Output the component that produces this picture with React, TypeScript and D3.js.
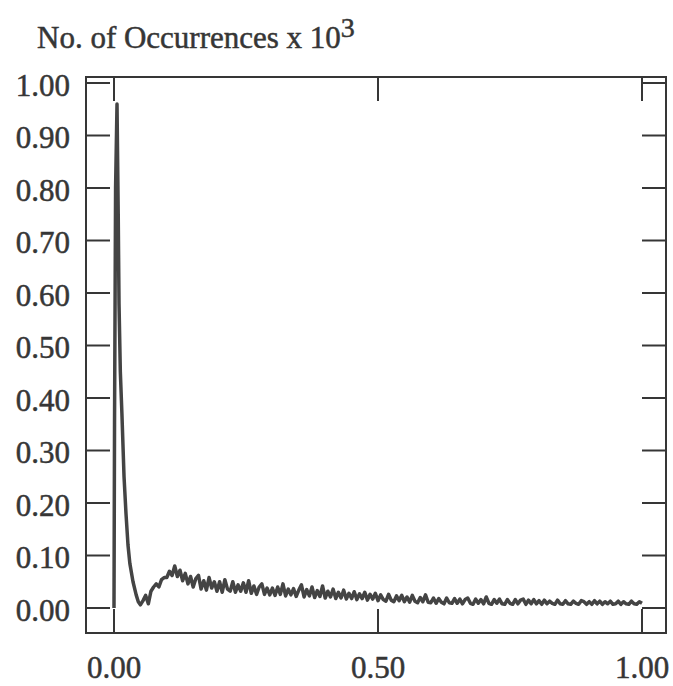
import React from "react";
import * as d3 from "d3";

const spikeX = [0, 0.001, 0.003, 0.0057, 0.008, 0.0095, 0.012, 0.015, 0.019, 0.0227, 0.0265, 0.03, 0.036, 0.042, 0.046];
const spikeY = [0, 0.35, 0.8, 0.96, 0.75, 0.58, 0.45, 0.37, 0.25, 0.18, 0.12, 0.085, 0.05, 0.025, 0.012];

const tailStart = 0.05;
const tailStep = 0.005;
const tailY = [
  0.006, 0.014, 0.024, 0.008, 0.032, 0.040, 0.046, 0.040, 0.054, 0.058,
  0.058, 0.070, 0.062, 0.080, 0.060, 0.072, 0.052, 0.066, 0.046, 0.060,
  0.040, 0.056, 0.062, 0.036, 0.052, 0.034, 0.058, 0.038, 0.050, 0.032,
  0.050, 0.030, 0.054, 0.036, 0.032, 0.050, 0.030, 0.044, 0.032, 0.048,
  0.030, 0.052, 0.028, 0.042, 0.026, 0.040, 0.046, 0.026, 0.038, 0.025,
  0.038, 0.024, 0.040, 0.026, 0.046, 0.023, 0.036, 0.025, 0.037, 0.022,
  0.034, 0.044, 0.021, 0.035, 0.023, 0.040, 0.020, 0.033, 0.022, 0.042,
  0.019, 0.032, 0.021, 0.036, 0.018, 0.030, 0.019, 0.034, 0.017, 0.028,
  0.018, 0.031, 0.016, 0.027, 0.018, 0.030, 0.015, 0.026, 0.017, 0.028,
  0.014, 0.025, 0.016, 0.013, 0.026, 0.015, 0.012, 0.023, 0.014, 0.024,
  0.012, 0.021, 0.011, 0.024, 0.013, 0.010, 0.020, 0.012, 0.025, 0.011,
  0.010, 0.019, 0.009, 0.018, 0.011, 0.008, 0.019, 0.010, 0.009, 0.018,
  0.009, 0.017, 0.008, 0.016, 0.019, 0.009, 0.007, 0.017, 0.009, 0.016,
  0.008, 0.021, 0.009, 0.007, 0.016, 0.009, 0.017, 0.008, 0.007, 0.016,
  0.009, 0.007, 0.016, 0.008, 0.015, 0.017, 0.007, 0.015, 0.008, 0.016,
  0.008, 0.014, 0.007, 0.015, 0.008, 0.013, 0.009, 0.007, 0.015, 0.008,
  0.007, 0.014, 0.008, 0.007, 0.013, 0.009, 0.007, 0.014, 0.012, 0.007,
  0.012, 0.007, 0.014, 0.008, 0.013, 0.007, 0.012, 0.008, 0.013, 0.007,
  0.008, 0.013, 0.007, 0.012, 0.008, 0.007, 0.013, 0.008, 0.007, 0.012,
  0.009,
];

const xTicks = [0, 0.5, 1];
const yTicks = [0, 0.1, 0.2, 0.3, 0.4, 0.5, 0.6, 0.7, 0.8, 0.9, 1.0];
const titleText = "No. of Occurrences x 10";
const titleSup = "3";

export default function App() {
  const x = d3.scaleLinear().domain([0, 1]).range([114, 642]);
  const y = d3.scaleLinear().domain([0, 1]).range([608, 83]);
  const frame = { left: 86, right: 666, top: 77, bottom: 633 };
  const tickLen = 24;

  const pts: [number, number][] = [];
  spikeX.forEach((v, i) => pts.push([v, spikeY[i]]));
  tailY.forEach((v, i) => pts.push([tailStart + i * tailStep, v]));

  const line = d3
    .line<[number, number]>()
    .x((d) => x(d[0]))
    .y((d) => y(d[1]));

  const col = "#363636";
  const font = "'Liberation Serif', 'Times New Roman', serif";
  const textStyle = { stroke: col, strokeWidth: 0.5 };

  return (
    <svg
      width={673}
      height={686}
      style={{ position: "absolute", left: 0, top: 0, background: "#fff" }}
    >
      <text x={37} y={48} fontFamily={font} fontSize={31} fill={col} style={textStyle}>
        {titleText}
        <tspan dy={-11} fontSize={28}>
          {titleSup}
        </tspan>
      </text>
      <rect
        x={frame.left}
        y={frame.top}
        width={frame.right - frame.left}
        height={frame.bottom - frame.top}
        fill="none"
        stroke={col}
        strokeWidth={2}
      />
      {yTicks.map((t) => (
        <g key={"y" + t}>
          <line x1={frame.left} x2={frame.left + tickLen} y1={y(t)} y2={y(t)} stroke={col} strokeWidth={2} />
          <line x1={frame.right} x2={frame.right - tickLen} y1={y(t)} y2={y(t)} stroke={col} strokeWidth={2} />
          <text
            x={70}
            y={y(t) + 2}
            textAnchor="end"
            dominantBaseline="central"
            fontFamily={font}
            fontSize={31}
            fill={col}
            style={textStyle}
          >
            {t.toFixed(2)}
          </text>
        </g>
      ))}
      {xTicks.map((t) => (
        <g key={"x" + t}>
          <line x1={x(t)} x2={x(t)} y1={frame.bottom} y2={frame.bottom - tickLen} stroke={col} strokeWidth={2} />
          <line x1={x(t)} x2={x(t)} y1={frame.top} y2={frame.top + tickLen} stroke={col} strokeWidth={2} />
          <text
            x={x(t)}
            y={678}
            textAnchor="middle"
            fontFamily={font}
            fontSize={31}
            fill={col}
            style={textStyle}
          >
            {t.toFixed(2)}
          </text>
        </g>
      ))}
      <path d={line(pts) || ""} fill="none" stroke="#444" strokeWidth={3.5} strokeLinejoin="round" />
    </svg>
  );
}
